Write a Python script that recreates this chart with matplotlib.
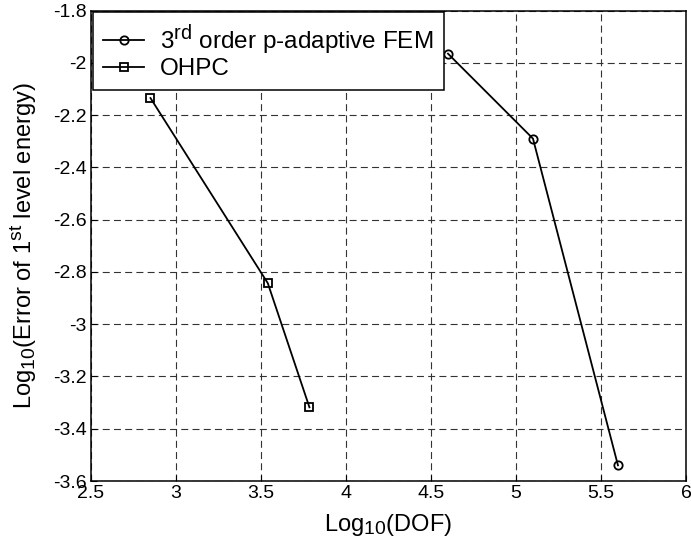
import matplotlib
matplotlib.use("Agg")
import matplotlib.pyplot as plt
try:
    import matplotlib._mathtext as _mt
    _mt.SHRINK_FACTOR = 0.82
except Exception:
    pass

fem_x = [4.6, 5.1, 5.6]
fem_y = [-1.965, -2.29, -3.54]
ohpc_x = [2.85, 3.54, 3.785]
ohpc_y = [-2.135, -2.843, -3.318]
xticks = [2.5, 3, 3.5, 4, 4.5, 5, 5.5, 6]
yticks = [-3.6, -3.4, -3.2, -3, -2.8, -2.6, -2.4, -2.2, -2, -1.8]
xtick_labels = ["2.5", "3", "3.5", "4", "4.5", "5", "5.5", "6"]
ytick_labels = ["-3.6", "-3.4", "-3.2", "-3", "-2.8", "-2.6", "-2.4", "-2.2", "-2", "-1.8"]

plt.rcParams['font.family'] = ['Liberation Sans', 'DejaVu Sans']
plt.rcParams['mathtext.fontset'] = 'custom'
plt.rcParams['mathtext.rm'] = 'Liberation Sans'
plt.rcParams['mathtext.it'] = 'Liberation Sans'

fig = plt.figure(figsize=(6.91, 5.46), dpi=100)
ax = fig.add_axes([0.1317, 0.119, 0.861, 0.8617])

ax.plot(fem_x, fem_y, '-', color='black', lw=1.3, marker='o', ms=6,
        mfc='none', mec='black', mew=1.3, label=r'3$^{\mathrm{rd}}$ order p-adaptive FEM')
ax.plot(ohpc_x, ohpc_y, '-', color='black', lw=1.3, marker='s', ms=6,
        mfc='none', mec='black', mew=1.3, label='OHPC')

ax.set_xlim(2.5, 6)
ax.set_ylim(-3.6, -1.8)
ax.set_xticks(xticks)
ax.set_xticklabels(xtick_labels)
ax.set_yticks(yticks)
ax.set_yticklabels(ytick_labels)
ax.tick_params(direction='in', length=4, labelsize=14, pad=3, width=0.8)
ax.grid(True, color='#333333', linestyle=(0, (6.3, 3.8)), linewidth=0.8)
for s in ax.spines.values():
    s.set_linewidth(1.1)

ax.set_xlabel(r'Log$_{10}$(DOF)', fontsize=17)
ax.set_ylabel(r'Log$_{10}$(Error of 1$^{\mathrm{st}}$ level energy)', fontsize=17)
ax.xaxis.set_label_coords(0.5, -0.066)
ax.yaxis.set_label_coords(-0.087, 0.5)

leg = ax.legend(loc='upper left', fontsize=17.5, frameon=True, fancybox=False,
                edgecolor='black', framealpha=1, borderpad=0.42, handlelength=1.7,
                handletextpad=0.65, labelspacing=0.05, borderaxespad=0.08)
leg.get_frame().set_linewidth(1.1)

fig.savefig('out.png', dpi=100)
